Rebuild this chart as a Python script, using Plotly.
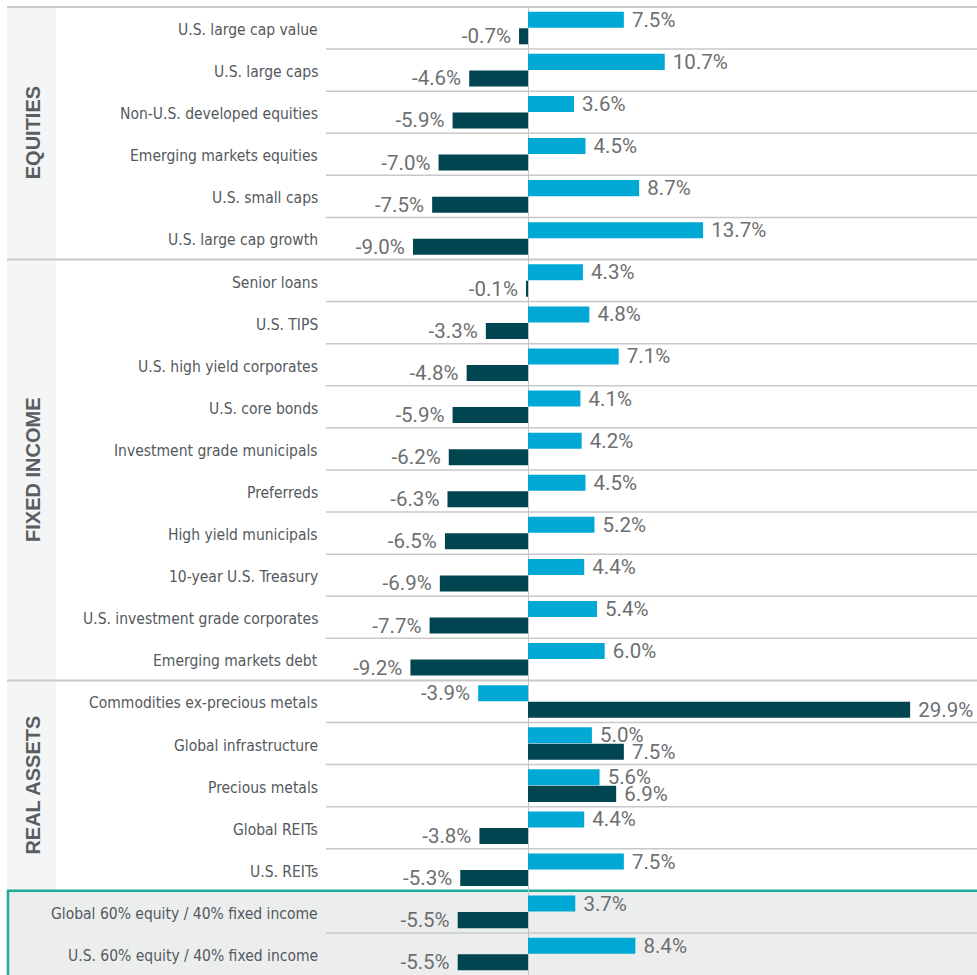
import plotly.graph_objects as go

# ---- data ----
equities = ["U.S. large cap value", "U.S. large caps", "Non-U.S. developed equities",
            "Emerging markets equities", "U.S. small caps", "U.S. large cap growth"]
equities_a = [7.5, 10.7, 3.6, 4.5, 8.7, 13.7]
equities_b = [-0.7, -4.6, -5.9, -7.0, -7.5, -9.0]

fixed_income = ["Senior loans", "U.S. TIPS", "U.S. high yield corporates", "U.S. core bonds",
                "Investment grade municipals", "Preferreds", "High yield municipals",
                "10-year U.S. Treasury", "U.S. investment grade corporates", "Emerging markets debt"]
fixed_a = [4.3, 4.8, 7.1, 4.1, 4.2, 4.5, 5.2, 4.4, 5.4, 6.0]
fixed_b = [-0.1, -3.3, -4.8, -5.9, -6.2, -6.3, -6.5, -6.9, -7.7, -9.2]

real_assets = ["Commodities ex-precious metals", "Global infrastructure", "Precious metals",
               "Global REITs", "U.S. REITs"]
real_a = [-3.9, 5.0, 5.6, 4.4, 7.5]
real_b = [29.9, 7.5, 6.9, -3.8, -5.3]

balanced = ["Global 60% equity / 40% fixed income", "U.S. 60% equity / 40% fixed income"]
balanced_a = [3.7, 8.4]
balanced_b = [-5.5, -5.5]

group_names = ["EQUITIES", "FIXED INCOME", "REAL ASSETS"]

categories = equities + fixed_income + real_assets + balanced
series_a = equities_a + fixed_a + real_a + balanced_a
series_b = equities_b + fixed_b + real_b + balanced_b
group_sizes = [len(equities), len(fixed_income), len(real_assets), len(balanced)]

# ---- layout geometry (pixels) ----
W, H = 977, 975
L, T, B, R = 326, 7, 0, 0
PW, PH = W - L - R, H - T - B
N = len(categories)

def px_x(px):
    return (px - L) / PW

def row_y(k):  # paper y of boundary k (0 = top)
    return 1 - k / N

BLUE = "#00a8d6"
DARK = "#00454f"
TXT = "#6d6f72"

def labels(vals):
    return [f" {v:.1f}%" if v >= 0 else f"{v:.1f}% " for v in vals]

fig = go.Figure()
for vals, col in [(series_a, BLUE), (series_b, DARK)]:
    fig.add_trace(go.Bar(
        y=categories, x=vals, orientation="h", marker=dict(color=col, line=dict(width=0)),
        text=labels(vals), textposition="outside", constraintext="none", cliponaxis=False,
        textfont=dict(family="Roboto", size=20.5, color=TXT), hoverinfo="skip"))

shapes = []
n_groups_rows = sum(group_sizes[:3])
shapes.append(dict(type="rect", xref="paper", yref="paper", x0=px_x(7), x1=px_x(56),
                   y0=row_y(n_groups_rows), y1=row_y(0), fillcolor="#f4f5f5",
                   line=dict(width=0), layer="below"))
shapes.append(dict(type="rect", xref="paper", yref="paper", x0=px_x(8), x1=px_x(990),
                   y0=row_y(N) - 0.02, y1=row_y(n_groups_rows), fillcolor="#eceeee",
                   line=dict(color="#1fab96", width=2.5), layer="below"))

group_starts = [0]
for s in group_sizes:
    group_starts.append(group_starts[-1] + s)

for k in range(N):
    if k == n_groups_rows:
        continue
    if k in group_starts:
        x0 = px_x(7)
        w = 2
    else:
        x0 = px_x(326)
        w = 1.5
    shapes.append(dict(type="line", xref="paper", yref="paper", x0=x0, x1=1,
                       y0=row_y(k), y1=row_y(k), line=dict(color="#c8c8c8", width=w),
                       layer="below"))

annotations = []
for gi, name in enumerate(group_names):
    c = (group_starts[gi] + group_starts[gi + 1]) / 2
    annotations.append(dict(text=name, xref="paper", yref="paper", x=px_x(33), y=row_y(c),
                            showarrow=False, textangle=-90, xanchor="center", yanchor="middle",
                            font=dict(family="Liberation Sans", size=20, color="#595e62",
                                      weight="bold")))
for cat in categories:
    annotations.append(dict(text=cat, xref="paper", yref="y", x=px_x(320), y=cat,
                            showarrow=False, xanchor="right", yanchor="middle", yshift=-2,
                            font=dict(family="DejaVu Sans Condensed", size=15.5,
                                      color="#54595d")))

px_per_unit = 12.78
zero_px = 528
x_min = -(zero_px - L) / px_per_unit
x_max = x_min + PW / px_per_unit

fig.update_layout(
    width=W, height=H, margin=dict(l=L, r=R, t=T, b=B, pad=0, autoexpand=False),
    barmode="group", bargap=0.215, bargroupgap=0.03, showlegend=False,
    paper_bgcolor="white", plot_bgcolor="rgba(0,0,0,0)",
    shapes=shapes, annotations=annotations,
    xaxis=dict(range=[x_min, x_max], showgrid=False, showticklabels=False, ticks="",
               zeroline=True, zerolinecolor="#c4c4c4", zerolinewidth=1, fixedrange=True,
               automargin=False),
    yaxis=dict(categoryorder="array", categoryarray=categories, range=[N - 0.5, -0.5],
               showgrid=False, ticks="", showticklabels=False, zeroline=False,
               automargin=False, fixedrange=True),
)

fig.write_html("out.html", config={"displayModeBar": False},
               post_script="document.body.style.margin='0';document.body.style.overflow='hidden';")
